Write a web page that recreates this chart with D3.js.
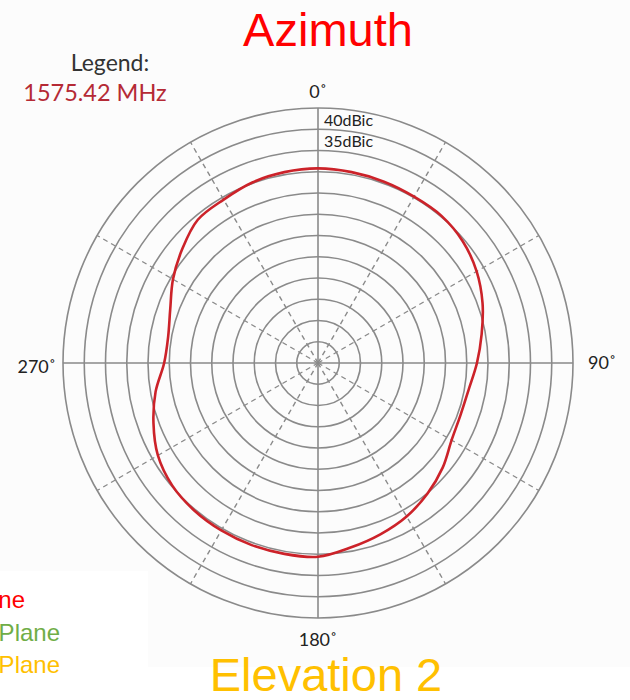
<!DOCTYPE html>
<html>
<head>
<meta charset="utf-8">
<script src="https://cdn.jsdelivr.net/npm/d3@7"></script>
<style>
  body { margin: 0; background: #fff; }
  svg { display: block; }
</style>
</head>
<body>
<div id="chart"></div>
<script>
// azimuth pattern, values (dBic)
const angles = [0, 10, 20, 30, 40, 50, 60, 70, 80, 90, 100, 110, 120, 130, 140, 150, 160, 170,
                180, 190, 200, 210, 220, 230, 240, 250, 260, 270, 280, 290, 300, 310, 320, 330, 340, 350];
const gain = [25.8, 25.6, 25.4, 25.2, 25.2, 24.5, 23.1, 21.2, 19.1, 17.4, 16.0, 15.7, 16.3, 18.3, 20.1, 21.7, 22.9, 24.1,
              25.6, 25.6, 25.6, 25.5, 25.3, 24.8, 23.5, 21.2, 18.8, 16.2, 15.8, 17.0, 19.4, 21.7, 24.0, 24.4, 25.2, 25.6];
const ringValues = [-15, -10, -5, 0, 5, 10, 15, 20, 25, 30, 35, 40];
const ringLabels = [{'value': 40, 'text': '40dBic'}, {'value': 35, 'text': '35dBic'}];
const spokeAngles = [0, 30, 60, 90, 120, 150, 180, 210, 240, 270, 300, 330];
const axisLabels = [
    {'angle': 0, 'text': '0˚'},
    {'angle': 90, 'text': '90˚'},
    {'angle': 180, 'text': '180˚'},
    {'angle': 270, 'text': '270˚'}
];
const legendItems = [
    {'text': 'Azimuth Plane', 'color': '#ff0000'},
    {'text': 'Elevation 1 Plane', 'color': '#70ad47'},
    {'text': 'Elevation 2 Plane', 'color': '#ffc000'}
];

const width = 630, height = 700;
const cx = 318, cy = 363, outerR = 255;
const gridColor = '#8a8a8a';
const labelFont = 'Lato, "Open Sans", sans-serif';

const svg = d3.select('#chart').append('svg')
    .attr('width', width)
    .attr('height', height);

// faint backdrop of the pasted chart image
svg.append('path')
    .attr('d', 'M0,0H630V667H148V571H0Z')
    .attr('fill', '#fcfcfc');

const r = d3.scaleLinear().domain([-20, 40]).range([0, outerR]);
const rad = (deg) => deg * Math.PI / 180;

const g = svg.append('g').attr('transform', `translate(${cx},${cy})`);

// dashed spokes every 30 degrees
g.selectAll('.spoke')
    .data(spokeAngles.filter((a) => a % 90 !== 0))
    .enter()
    .append('line')
    .attr('class', 'spoke')
    .attr('x1', 0).attr('y1', 0)
    .attr('x2', (d) => r(40) * Math.sin(rad(d)))
    .attr('y2', (d) => -r(40) * Math.cos(rad(d)))
    .attr('stroke', gridColor)
    .attr('stroke-width', 1.4)
    .attr('stroke-dasharray', '5,4');

// rings
g.selectAll('.ring')
    .data(ringValues)
    .enter()
    .append('circle')
    .attr('class', 'ring')
    .attr('r', (d) => r(d))
    .attr('fill', 'none')
    .attr('stroke', gridColor)
    .attr('stroke-width', 1.6);

// solid axes
g.selectAll('.axis')
    .data(spokeAngles.filter((a) => a % 90 === 0))
    .enter()
    .append('line')
    .attr('class', 'axis')
    .attr('x1', 0).attr('y1', 0)
    .attr('x2', (d) => r(40) * Math.sin(rad(d)))
    .attr('y2', (d) => -r(40) * Math.cos(rad(d)))
    .attr('stroke', gridColor)
    .attr('stroke-width', 1.6);

// pattern curve
const points = angles.map((a, i) => [rad(a), r(gain[i])]);
const line = d3.lineRadial()
    .angle((d) => d[0])
    .radius((d) => d[1])
    .curve(d3.curveCatmullRomClosed.alpha(0.5));

g.append('path')
    .datum(points)
    .attr('d', line)
    .attr('fill', 'none')
    .attr('stroke', '#cc2229')
    .attr('stroke-width', 2.6);

// ring labels
g.selectAll('.ring-label')
    .data(ringLabels)
    .enter()
    .append('text')
    .attr('class', 'ring-label')
    .attr('x', 6)
    .attr('y', (d) => -r(d.value) + 18)
    .attr('font-family', labelFont)
    .attr('font-size', 16)
    .attr('fill', '#222')
    .text((d) => d.text);

// angle labels
const labelPos = {
    0: {'x': 0, 'y': -r(40) - 10, 'anchor': 'middle'},
    90: {'x': r(40) + 15, 'y': 6, 'anchor': 'start'},
    180: {'x': 0, 'y': r(40) + 28, 'anchor': 'middle'},
    270: {'x': -r(40) - 7, 'y': 10, 'anchor': 'end'}
};
g.selectAll('.angle-label')
    .data(axisLabels)
    .enter()
    .append('text')
    .attr('class', 'angle-label')
    .attr('x', (d) => labelPos[d.angle].x)
    .attr('y', (d) => labelPos[d.angle].y)
    .attr('text-anchor', (d) => labelPos[d.angle].anchor)
    .attr('font-family', labelFont)
    .attr('font-size', 18)
    .attr('fill', '#222')
    .text((d) => d.text);

// "Legend:" block top left
svg.append('text')
    .attr('x', 110).attr('y', 71)
    .attr('text-anchor', 'middle')
    .attr('font-family', labelFont)
    .attr('font-size', 23)
    .attr('fill', '#333')
    .text('Legend:');
svg.append('text')
    .attr('x', 95).attr('y', 101)
    .attr('text-anchor', 'middle')
    .attr('font-family', labelFont)
    .attr('font-size', 23.5)
    .attr('fill', '#b52a35')
    .text('1575.42 MHz');

// titles
svg.append('text')
    .attr('x', 328).attr('y', 46)
    .attr('text-anchor', 'middle')
    .attr('font-family', '"Liberation Sans", Arial, sans-serif')
    .attr('font-size', 47)
    .attr('fill', '#ff0000')
    .text('Azimuth');
svg.append('text')
    .attr('x', 326).attr('y', 691)
    .attr('text-anchor', 'middle')
    .attr('font-family', '"Liberation Sans", Arial, sans-serif')
    .attr('font-size', 47)
    .attr('fill', '#ffc000')
    .text('Elevation 2');

// plane legend, clipped by the left edge
const legendEnd = [25, 60, 60];
svg.selectAll('.plane')
    .data(legendItems)
    .enter()
    .append('text')
    .attr('class', 'plane')
    .attr('x', (d, i) => legendEnd[i])
    .attr('y', (d, i) => 608 + i * 32.5)
    .attr('text-anchor', 'end')
    .attr('font-family', '"Liberation Sans", Arial, sans-serif')
    .attr('font-size', 24)
    .attr('fill', (d) => d.color)
    .text((d) => d.text);
</script>
</body>
</html>
